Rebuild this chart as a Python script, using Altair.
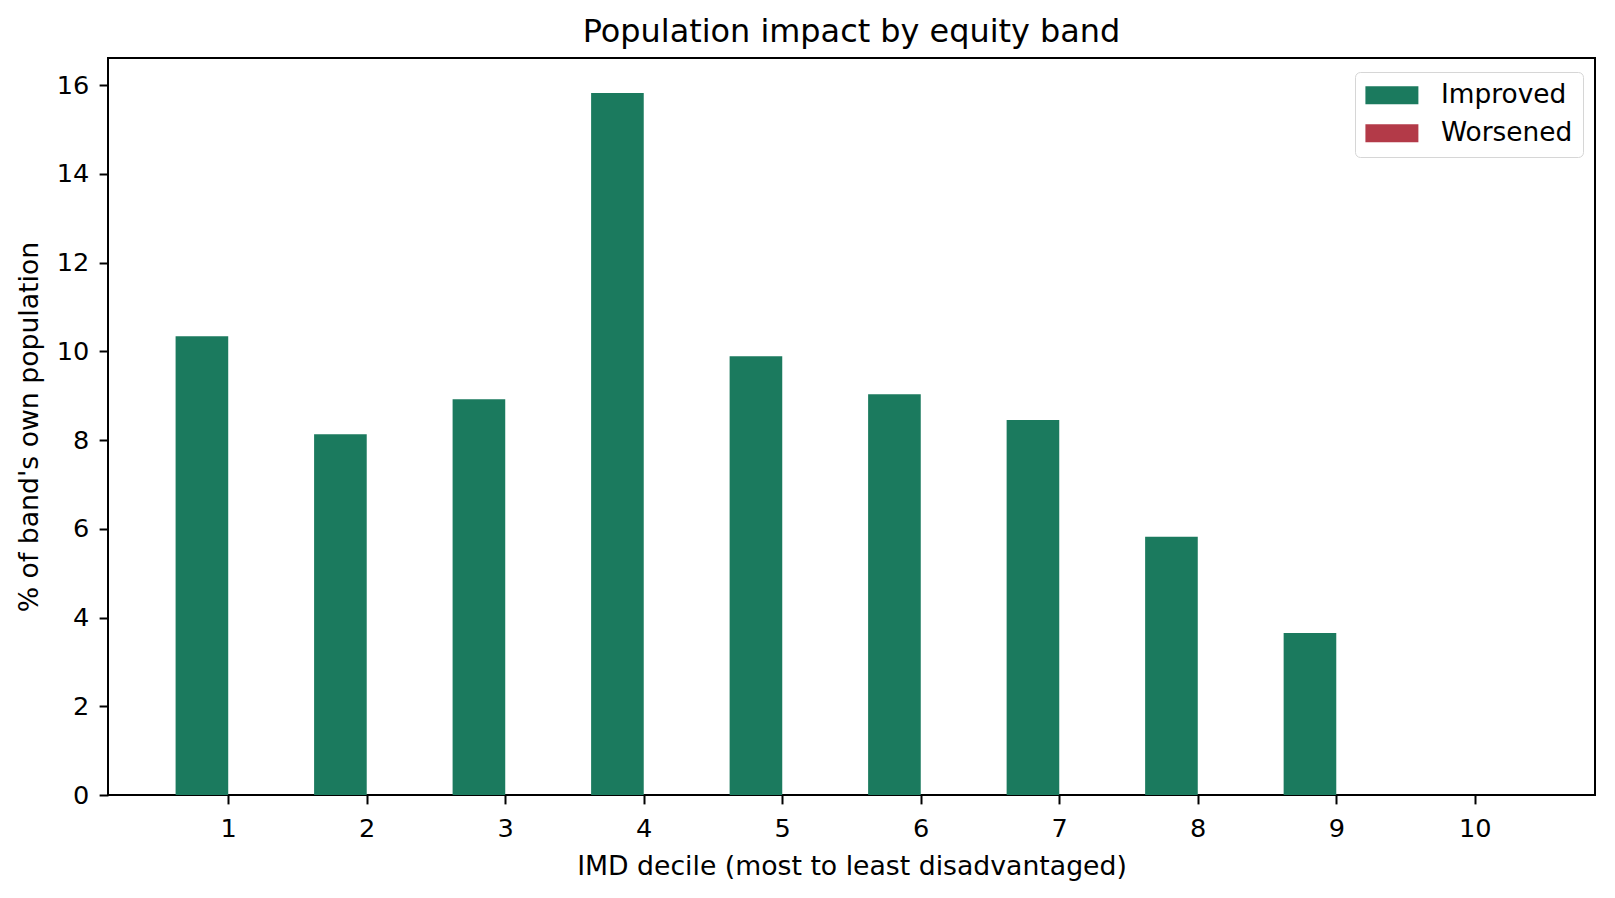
import altair as alt
import pandas as pd

# ---- data ----
deciles = [1, 2, 3, 4, 5, 6, 7, 8, 9, 10]
improved = [10.34, 8.13, 8.92, 15.82, 9.89, 9.03, 8.45, 5.82, 3.65, 0.0]
worsened = [0.0, 0.0, 0.0, 0.0, 0.0, 0.0, 0.0, 0.0, 0.0, 0.0]
series_names = ["Improved", "Worsened"]
series_colors = ["#1b7a5e", "#b33a48"]
x_ticks = [1, 2, 3, 4, 5, 6, 7, 8, 9, 10]
y_ticks = [0, 2, 4, 6, 8, 10, 12, 14, 16]

title_text = "Population impact by equity band"
x_title = "IMD decile (most to least disadvantaged)"
y_title = "% of band's own population"

df = pd.concat([
    pd.DataFrame({"decile": deciles, "series": series_names[0], "value": improved}),
    pd.DataFrame({"decile": deciles, "series": series_names[1], "value": worsened}),
], ignore_index=True)

FONT = "DejaVu Sans"
W, H = 1487, 737
BAR_W = 0.38

chart = (
    alt.Chart(df)
    .transform_calculate(
        x0=f"datum.series == 'Improved' ? datum.decile - {BAR_W} : datum.decile",
        x1=f"datum.series == 'Improved' ? datum.decile : datum.decile + {BAR_W}",
    )
    .mark_bar(strokeWidth=0, opacity=1)
    .encode(
        x=alt.X(
            "x0:Q",
            scale=alt.Scale(domain=[0.132, 10.868], nice=False, zero=False),
            axis=alt.Axis(
                values=x_ticks, format="d", title=x_title,
                labelBaseline="alphabetic", labelPadding=32.6,
                titleX=W / 2, titleY=79, titleBaseline="alphabetic", titleAlign="center",
            ),
        ),
        x2="x1:Q",
        y=alt.Y(
            "value:Q",
            scale=alt.Scale(domain=[0, 16.61], nice=False),
            axis=alt.Axis(
                values=y_ticks, format="d", title=y_title,
                labelPadding=10.3,
                titleX=-70.4, titleY=H / 2, titleBaseline="alphabetic", titleAlign="center",
            ),
        ),
        y2=alt.datum(0),
        color=alt.Color(
            "series:N",
            scale=alt.Scale(domain=series_names, range=series_colors),
            legend=alt.Legend(
                title=None, orient="none", legendX=1247, legendY=14,
                symbolType="M-2.07,-0.7H2.07V0.7H-2.07Z", symbolSize=655,
                symbolStrokeWidth=0, symbolOpacity=1, symbolOffset=13.7,
                labelFontSize=26.4, labelFont=FONT, labelColor="black",
                labelOffset=35.9, rowPadding=11,
                padding=10, fillColor="white", strokeColor="#d6d6d6",
                cornerRadius=5,
            ),
        ),
    )
    .properties(
        width=W, height=H,
        title=alt.TitleParams(
            title_text, font=FONT, fontSize=31.9, fontWeight="normal", color="black",
            anchor="middle", frame="group", baseline="alphabetic", offset=-15.7,
        ),
        autosize=alt.AutoSizeParams(type="none"),
        padding={"left": 100, "top": 50, "right": 12, "bottom": 95},
    )
    .configure_view(stroke="black", strokeWidth=2)
    .configure_axis(
        grid=False, domain=False,
        tickColor="black", tickSize=8.9, tickWidth=2,
        labelFont=FONT, labelFontSize=25.6, labelColor="black",
        titleFont=FONT, titleFontSize=26.7, titleFontWeight="normal", titleColor="black",
    )
)

chart.save("out.html", embed_options={"renderer": "svg", "actions": False})
